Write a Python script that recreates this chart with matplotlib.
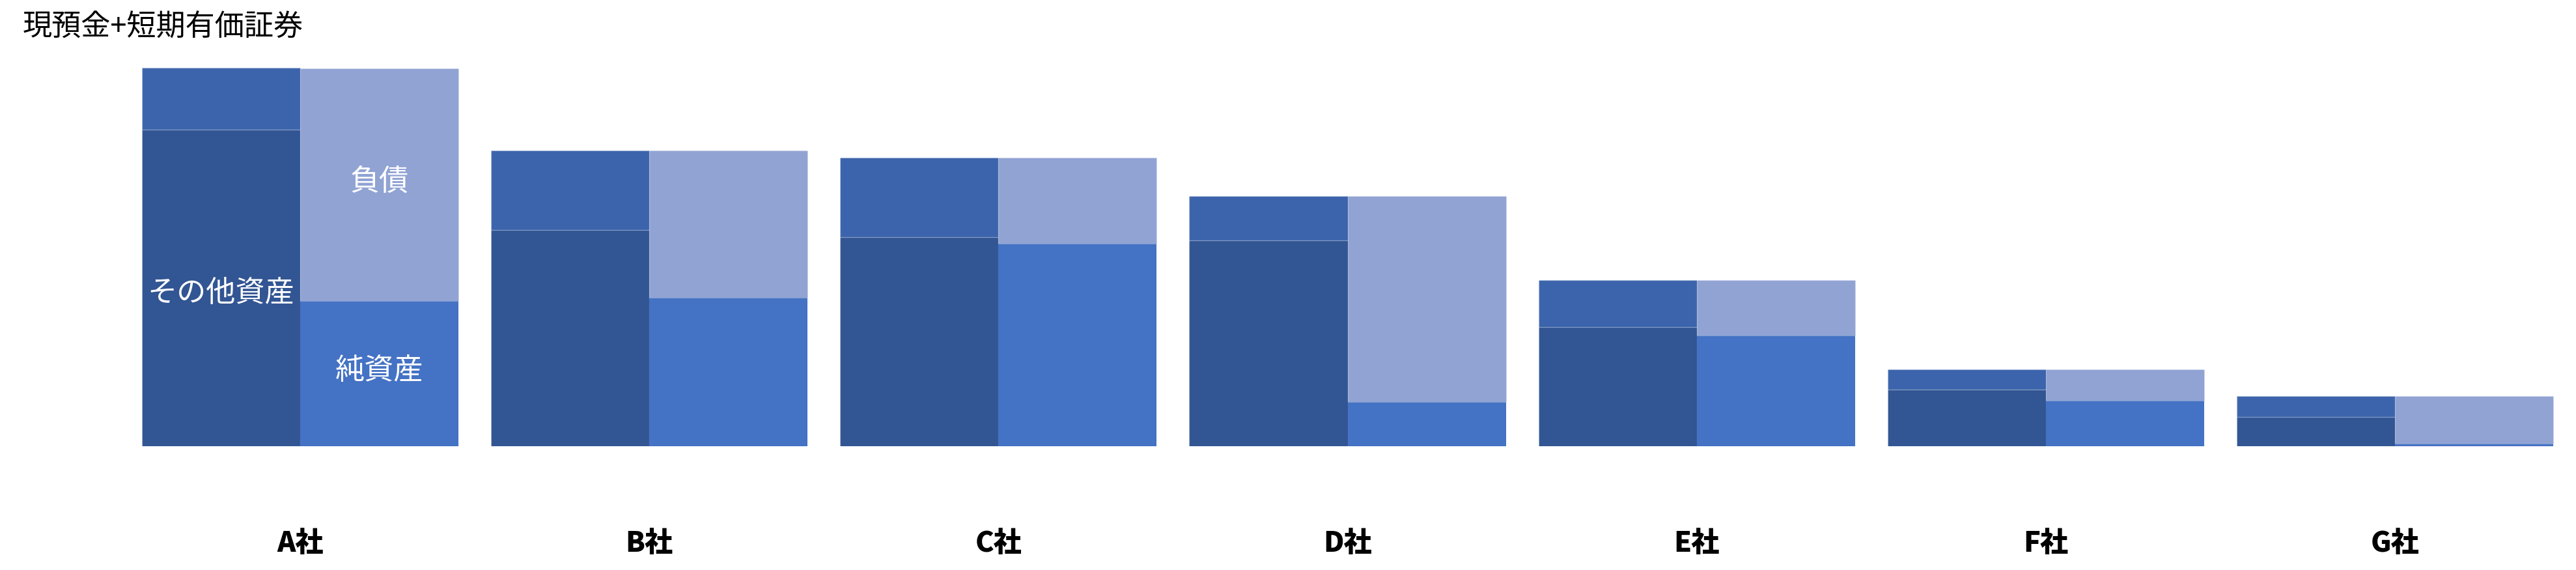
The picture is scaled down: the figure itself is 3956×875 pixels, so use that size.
import numpy as np
import matplotlib
matplotlib.use('Agg')
import matplotlib.pyplot as plt

# フォント設定（日本語）
plt.rcParams['font.family'] = ['Noto Sans CJK JP', 'DejaVu Sans']

# 会社ごとのデータ
companies = ['A社', 'B社', 'C社', 'D社', 'E社', 'F社', 'G社']
cash = [95, 122, 122, 68, 72, 31, 32]            # 現預金+短期有価証券
other_assets = [486, 332, 321, 316, 183, 87, 45]  # その他資産
liabilities = [357, 226, 132, 316, 85, 48, 73]    # 負債
net_assets = [223, 228, 311, 68, 170, 70, 4]      # 純資産

# 色
c_cash = '#3C64AC'
c_other = '#325593'
c_liab = '#90A3D3'
c_equity = '#4472C4'
edge = (1, 1, 1, 0.15)

W, H = 3956, 875
fig = plt.figure(figsize=(W / 100, H / 100), dpi=100)
ax = fig.add_axes([193 / W, (H - 685) / H, 3753 / W, 600 / H])

x = np.arange(len(companies))
w = 0.4534

# 左側：資産（その他資産 + 現預金）
ax.bar(x - w / 2, other_assets, width=w, color=c_other, edgecolor=edge, linewidth=1.0)
ax.bar(x - w / 2, cash, width=w, bottom=other_assets, color=c_cash, edgecolor=edge, linewidth=1.0)
# 右側：純資産 + 負債
ax.bar(x + w / 2, net_assets, width=w, color=c_equity, edgecolor='none')
ax.bar(x + w / 2, liabilities, width=w, bottom=net_assets, color=c_liab, edgecolor=edge, linewidth=1.0)

# A社のみ内訳ラベル
fs = 32.5
ax.text(x[0] - w / 2, other_assets[0] / 2 - 8, 'その他資産', color='white', fontsize=fs,
        ha='center', va='center')
ax.text(x[0] + w / 2, net_assets[0] / 2 + 5, '純資産', color='white', fontsize=fs,
        ha='center', va='center')
ax.text(x[0] + w / 2, net_assets[0] + liabilities[0] / 2 + 5, '負債', color='white', fontsize=fs,
        ha='center', va='center')

ax.set_xlim(-0.5, len(companies) - 0.5)
ax.set_ylim(0, 600)
ax.set_xticks(x)
ax.set_xticklabels(companies, fontsize=31, fontweight='heavy')
ax.tick_params(axis='x', length=0, pad=92)
ax.set_yticks([])
for s in ax.spines.values():
    s.set_visible(False)

fig.text(35 / W, 1 - 42 / H, '現預金+短期有価証券', fontsize=fs, ha='left', va='center')

plt.savefig('out.png', dpi=100)
